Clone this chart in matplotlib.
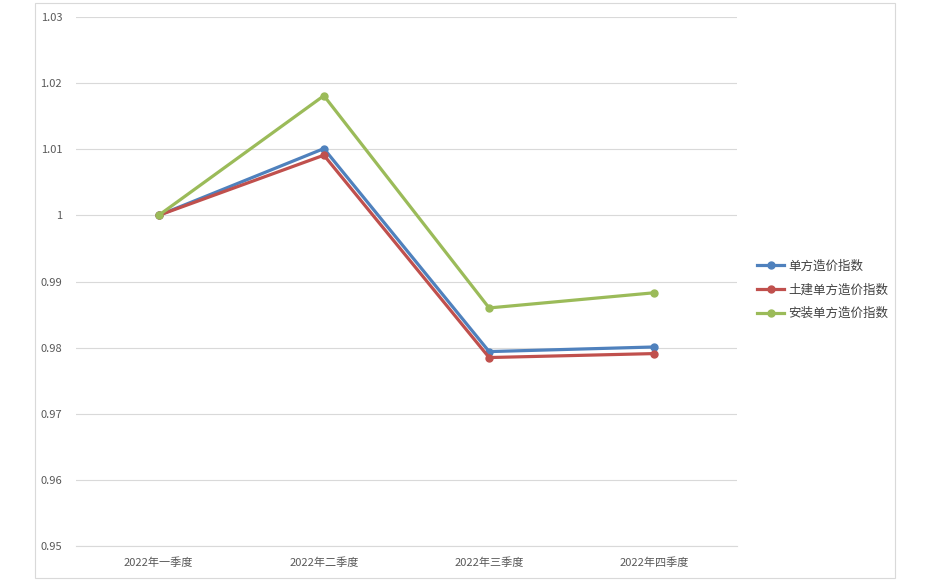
import matplotlib.pyplot as plt
from matplotlib.patches import Rectangle

plt.rcParams['font.family'] = ['Noto Sans CJK SC', 'DejaVu Sans']

quarters = ['2022年一季度', '2022年二季度', '2022年三季度', '2022年四季度']
unit_index = [1.0000, 1.0101, 0.9794, 0.9801]
civil_index = [1.0000, 1.0091, 0.9785, 0.9791]
install_index = [1.0000, 1.0181, 0.9860, 0.9883]
yticks = [0.95, 0.96, 0.97, 0.98, 0.99, 1.00, 1.01, 1.02, 1.03]
ytick_labels = ['0.95', '0.96', '0.97', '0.98', '0.99', '1', '1.01', '1.02', '1.03']

W, H = 931, 582
fig = plt.figure(figsize=(W / 100, H / 100), dpi=100)
# outer chart border
fig.patches.append(Rectangle((35 / W, 1 - 578 / H), 860 / W, 575 / H,
                             transform=fig.transFigure, fill=False,
                             edgecolor='#d9d9d9', linewidth=0.8))

ax = fig.add_axes([76 / W, 1 - 546 / H, 661 / W, 529 / H])
x = range(len(quarters))
ax.plot(x, unit_index, color='#4F81BD', lw=2.3, marker='o', ms=5, label='单方造价指数')
ax.plot(x, civil_index, color='#C0504D', lw=2.3, marker='o', ms=5, label='土建单方造价指数')
ax.plot(x, install_index, color='#9BBB59', lw=2.3, marker='o', ms=5, label='安装单方造价指数')

ax.set_xlim(-0.5, 3.5)
ax.set_ylim(0.95, 1.03)
ax.set_yticks(yticks)
ax.set_yticklabels(ytick_labels)
ax.set_xticks(list(x))
ax.set_xticklabels(quarters)
ax.grid(axis='y', color='#d9d9d9', lw=0.8)
ax.set_axisbelow(True)
for s in ['top', 'right', 'left']:
    ax.spines[s].set_visible(False)
ax.spines['bottom'].set_color('#d9d9d9')
ax.tick_params(length=0, labelsize=8, colors='#595959')
ax.tick_params(axis='y', pad=10)
ax.tick_params(axis='x', pad=8)

ax.legend(loc='center left', bbox_to_anchor=(1.013, 0.484), frameon=False,
          fontsize=9, labelcolor='#404040', handlelength=2.2, handletextpad=0.3,
          labelspacing=0.85)

fig.savefig('out.png', dpi=100)
